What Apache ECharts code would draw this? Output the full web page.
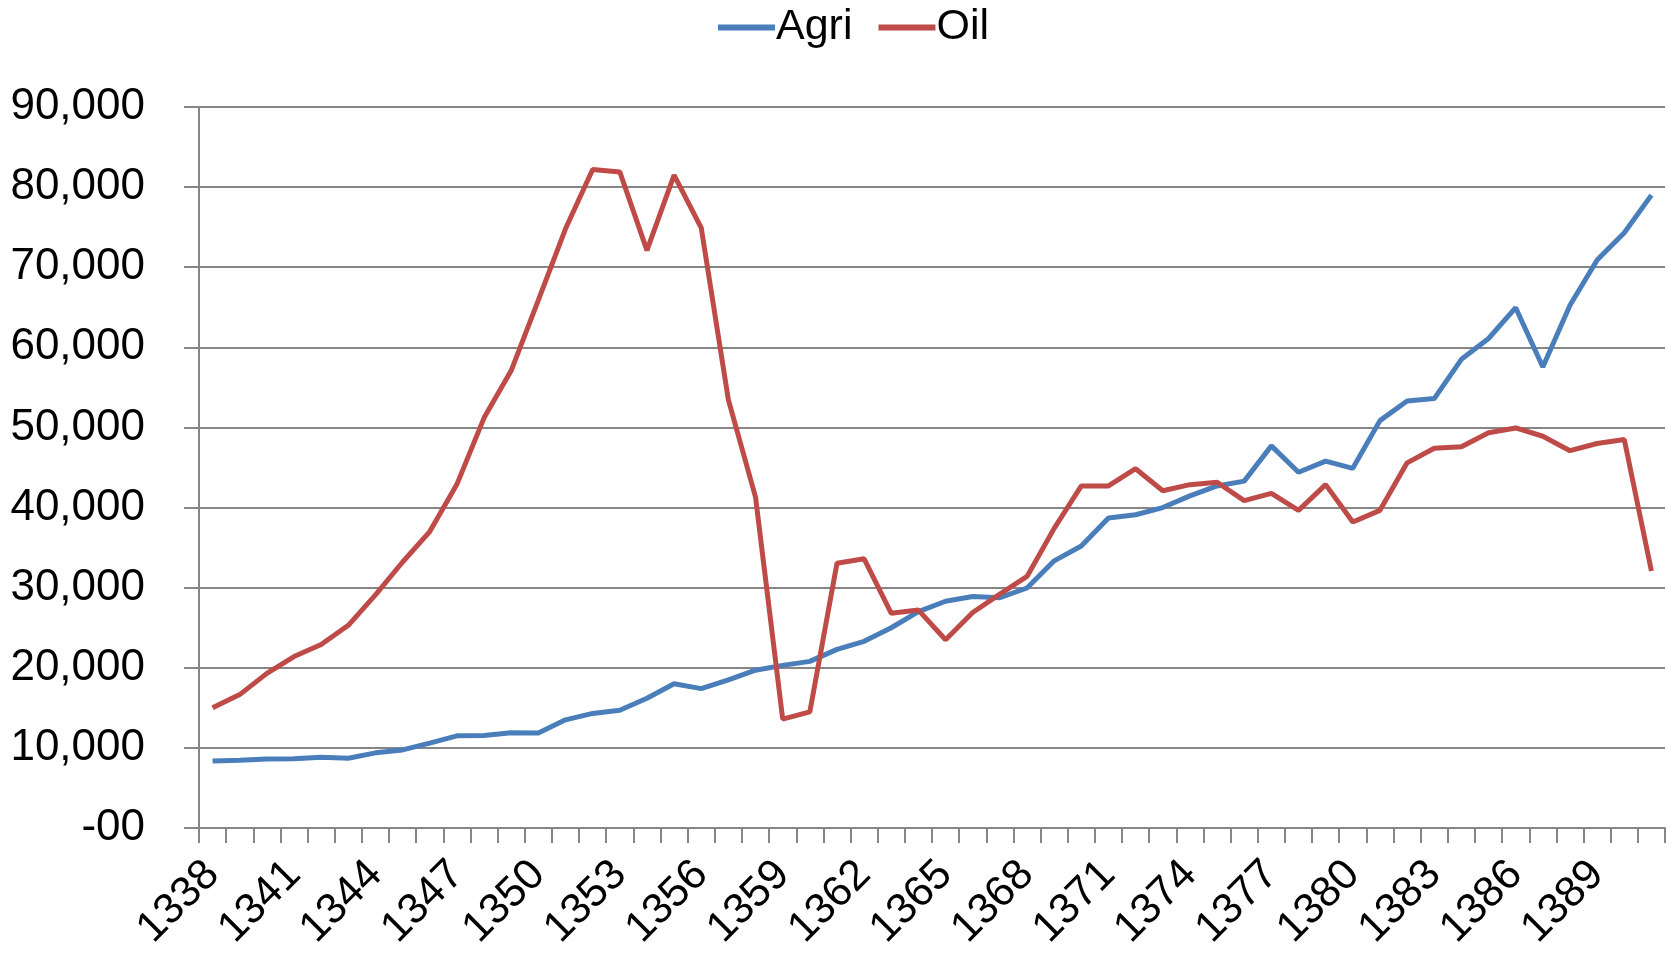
<!DOCTYPE html>
<html><head><meta charset="utf-8">
<script src="https://cdn.jsdelivr.net/npm/echarts@6/dist/echarts.min.js"></script>
<style>html,body{margin:0;padding:0;background:#fff}#c{width:1675px;height:959px}</style>
</head><body><div id="c"></div>
<script>
const years = [];
for (let y = 1338; y <= 1391; y++) years.push(String(y));
const agri = [8350,8450,8600,8650,8840,8700,9380,9750,10600,11500,11560,11900,11860,13500,14300,14700,16200,18000,17400,
  18500,19700,20300,20800,22300,23300,25000,27000,28300,28900,28750,29960,33350,35200,38700,39100,40000,41460,
  42700,43300,47700,44400,45800,44900,50850,53300,53600,58500,61100,64950,57550,65250,70900,74300,79000];
const oil = [15000,16650,19300,21400,22900,25300,29100,33200,37000,42900,51200,57100,65900,74800,82200,81900,72100,81500,74900,
  53450,41300,13600,14500,33050,33600,26800,27200,23500,26900,29200,31400,37400,42700,42700,44850,42100,42860,
  43160,40860,41770,39650,42860,38200,39650,45580,47400,47580,49330,49940,48900,47100,48000,48490,32080];
const yTicks = {min: 0, max: 90000, interval: 10000};

const chart = echarts.init(document.getElementById('c'));
const font = '"Liberation Sans", Arial, sans-serif';
chart.setOption({
  animation: false,
  textStyle: {fontFamily: font},
  legend: {
    top: 6, left: 718, padding: 0, itemWidth: 57, itemHeight: 6, itemGap: 26, icon: 'rect',
    textStyle: {fontSize: 43, color: '#000', fontFamily: font, padding: [0,0,0,-4]},
    data: ['Agri', 'Oil']
  },
  grid: {left: 199, right: 10, top: 107, bottom: 131, containLabel: false},
  xAxis: {
    type: 'category', data: years, boundaryGap: true,
    axisLine: {lineStyle: {color: '#868686', width: 2}},
    axisTick: {show: true, interval: 0, length: 15, inside: false, lineStyle: {color: '#868686', width: 2}},
    axisLabel: {interval: 2, rotate: 45, fontSize: 43, color: '#000', fontFamily: font, margin: 40}
  },
  yAxis: {
    type: 'value', min: yTicks.min, max: yTicks.max, interval: yTicks.interval,
    axisLine: {show: true, lineStyle: {color: '#868686', width: 2}},
    axisTick: {show: true, length: 15, lineStyle: {color: '#868686', width: 2}},
    splitLine: {lineStyle: {color: '#868686', width: 2}},
    axisLabel: {fontSize: 44, color: '#000', fontFamily: font, margin: 54,
      formatter: v => v === 0 ? '-00' : v.toLocaleString('en-US')}
  },
  series: [
    {name: 'Agri', type: 'line', data: agri, symbol: 'none', lineStyle: {color: '#4A7EBB', width: 5}, itemStyle: {color: '#4A7EBB'}},
    {name: 'Oil', type: 'line', data: oil, symbol: 'none', lineStyle: {color: '#BE4B48', width: 5}, itemStyle: {color: '#BE4B48'}}
  ]
});
</script></body></html>
